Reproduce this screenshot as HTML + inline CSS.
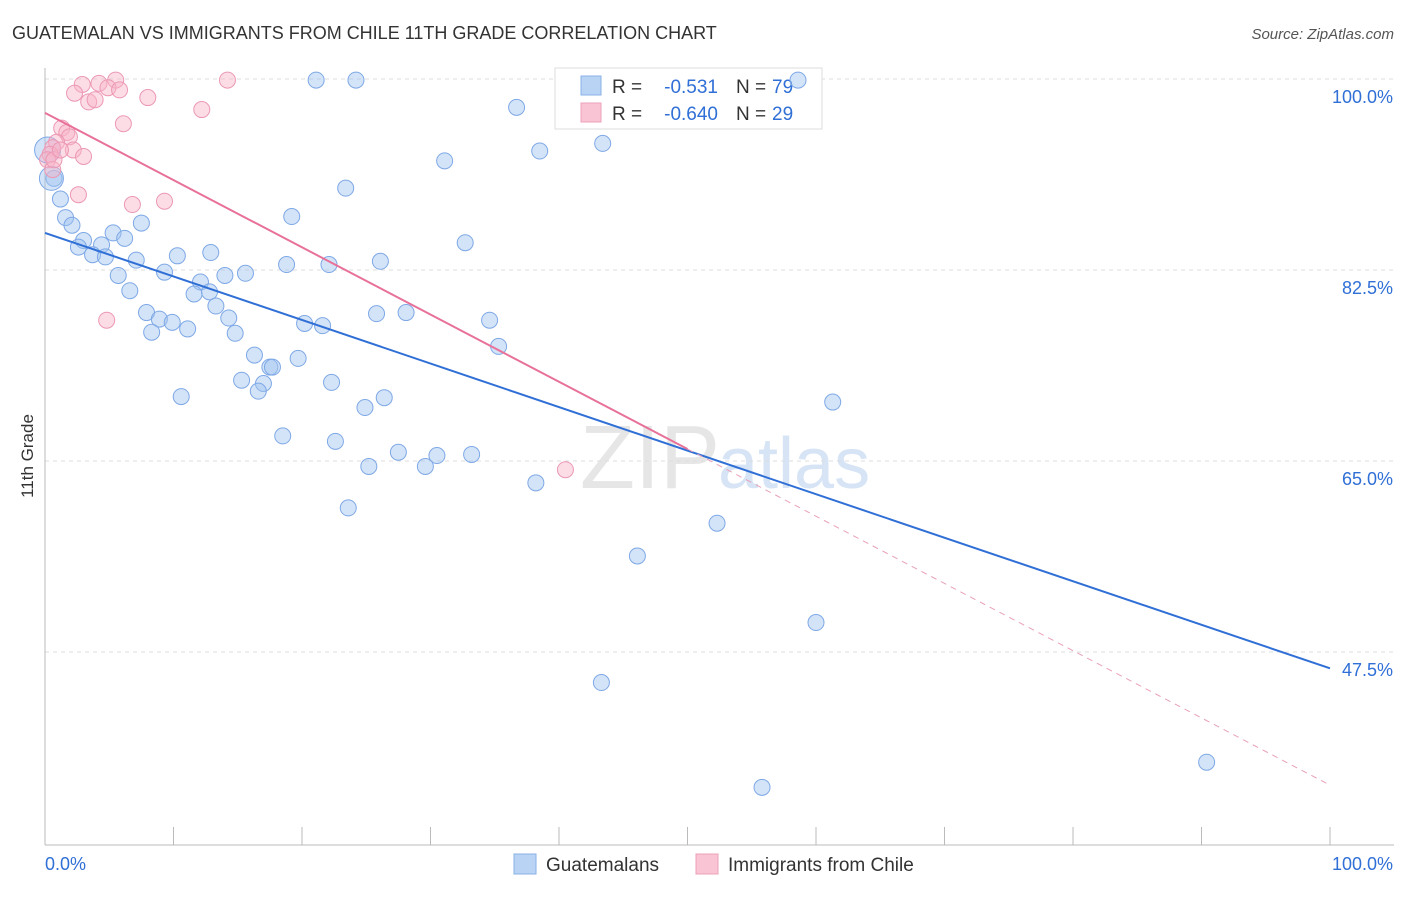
<!DOCTYPE html>
<html><head><meta charset="utf-8"><style>
body{margin:0;background:#fff;font-family:"Liberation Sans",sans-serif;}
svg text{font-family:"Liberation Sans",sans-serif;}
</style></head><body>
<svg id="chart" width="1406" height="892" viewBox="0 0 1406 892">
<text x="12" y="39" font-size="18" fill="#333">GUATEMALAN VS IMMIGRANTS FROM CHILE 11TH GRADE CORRELATION CHART</text>
<text x="1394" y="39" font-size="15" fill="#555" text-anchor="end" font-style="italic">Source: ZipAtlas.com</text>
<text x="720" y="488" font-size="90" fill="#e6e6e6" text-anchor="end" font-family="Liberation Serif">ZIP</text>
<text x="718" y="488" font-size="72" fill="#d6e4f5">atlas</text>
<g id="grid"></g>
<g id="axes"></g>
<g>
<rect x="555" y="68" width="267" height="61" fill="#fff" stroke="#ddd"/>
<rect x="581" y="76" width="20" height="19" fill="#b9d3f5" stroke="#8ab0e8"/>
<rect x="581" y="103" width="20" height="19" fill="#f9c4d4" stroke="#eea0b8"/>
<text x="612" y="93" font-size="19" fill="#333">R =</text>
<text x="718" y="93" font-size="19" fill="#2f6fd6" text-anchor="end">-0.531</text>
<text x="736" y="93" font-size="19" fill="#333">N =</text>
<text x="772" y="93" font-size="19" fill="#2f6fd6">79</text>
<text x="612" y="120" font-size="19" fill="#333">R =</text>
<text x="718" y="120" font-size="19" fill="#2f6fd6" text-anchor="end">-0.640</text>
<text x="736" y="120" font-size="19" fill="#333">N =</text>
<text x="772" y="120" font-size="19" fill="#2f6fd6">29</text>
</g>
<g id="marks"></g>
<text transform="translate(33,456) rotate(-90)" font-size="17" fill="#333" text-anchor="middle">11th Grade</text>
<g>
<rect x="514" y="854" width="22" height="20" fill="#b9d3f5" stroke="#8ab0e8"/>
<text x="546" y="871" font-size="19" fill="#333">Guatemalans</text>
<rect x="696" y="854" width="22" height="20" fill="#f9c4d4" stroke="#eea0b8"/>
<text x="728" y="871" font-size="19" fill="#333">Immigrants from Chile</text>
</g>
</svg>
<script>
const yTicks=[100,82.5,65,47.5];
const yTickLabels=["100.0%","82.5%","65.0%","47.5%"];
const xLabels=["0.0%","100.0%"];
const blueX=[21.1,24.2,58.6,36.7,43.4,38.5,31.1,0.7,23.4,1.2,1.6,19.2,2.1,7.5,5.3,3.0,6.2,32.7,4.4,2.6,3.7,4.7,10.3,12.9,7.1,26.1,18.8,22.1,5.7,9.3,14.0,15.6,12.1,11.6,12.8,6.6,13.3,7.9,8.9,9.9,14.3,25.8,28.1,20.2,21.6,34.6,8.3,11.1,14.8,35.3,16.3,19.7,17.5,17.7,15.3,17.0,16.6,22.3,10.6,26.4,24.9,61.3,18.5,22.6,27.5,30.5,33.2,25.2,29.6,38.2,23.6,52.3,46.1,60.0,43.3,90.4,55.8,0.2,0.5];
const blueY=[99.9,99.9,99.9,97.4,94.1,93.4,92.5,90.9,90.0,89.0,87.3,87.4,86.6,86.8,85.9,85.2,85.4,85.0,84.8,84.6,83.9,83.7,83.8,84.1,83.4,83.3,83.0,83.0,82.0,82.3,82.0,82.2,81.4,80.3,80.5,80.6,79.2,78.6,78.0,77.7,78.1,78.5,78.6,77.6,77.4,77.9,76.8,77.1,76.7,75.5,74.7,74.4,73.6,73.6,72.4,72.1,71.4,72.2,70.9,70.8,69.9,70.4,67.3,66.8,65.8,65.5,65.6,64.5,64.5,63.0,60.7,59.3,56.3,50.2,44.7,37.4,35.1,93.5,90.9];
const blueR=[8,8,8,8,8,8,8,8,8,8,8,8,8,8,8,8,8,8,8,8,8,8,8,8,8,8,8,8,8,8,8,8,8,8,8,8,8,8,8,8,8,8,8,8,8,8,8,8,8,8,8,8,8,8,8,8,8,8,8,8,8,8,8,8,8,8,8,8,8,8,8,8,8,8,8,8,8,13,12];
const pinkX=[5.5,14.2,2.9,4.2,4.9,5.8,2.3,8.0,3.4,3.9,12.2,6.1,1.3,1.7,1.9,0.9,0.6,2.2,0.4,3.0,0.2,0.6,2.6,6.8,9.3,4.8,40.5,0.7,1.2];
const pinkY=[99.9,99.9,99.5,99.6,99.2,99.0,98.7,98.3,97.9,98.1,97.2,95.9,95.5,95.1,94.7,94.2,93.7,93.5,93.1,92.9,92.6,91.7,89.4,88.5,88.8,77.9,64.2,92.6,93.5];
const blueTrend=[85.9,46.0];
const pinkTrend=[96.9,35.3];
const pinkSolidEnd=50;
const NS="http://www.w3.org/2000/svg";
const X0=45,X1=1330,Y100=79,PXPER=10.914;
function xs(v){return X0+(X1-X0)*v/100;}
function ys(v){return Y100+(100-v)*PXPER;}
function mk(t,a,p){const e=document.createElementNS(NS,t);for(const k in a)e.setAttribute(k,a[k]);p.appendChild(e);return e;}
const grid=document.getElementById('grid'),axes=document.getElementById('axes'),marks=document.getElementById('marks');
yTicks.forEach((t,i)=>{
 const l=mk('line',{x1:X0,x2:1394,y1:ys(t),y2:ys(t),stroke:'#ddd','stroke-dasharray':'4,4'},grid);
 
 
 const tx=mk('text',{x:1393,y:ys(t)+24,'font-size':18,fill:'#2f6fd6','text-anchor':'end'},axes);
 tx.textContent=yTickLabels[i];
 
 
});
const ax=mk('line',{x1:X0,x2:1394,y1:845,y2:845,stroke:'#bbb'},axes);


const ay=mk('line',{x1:X0,x2:X0,y1:68,y2:845,stroke:'#bbb'},axes);


for(let i=0;i<=10;i++){const t=mk('line',{x1:xs(i*10),x2:xs(i*10),y1:827,y2:845,stroke:'#bbb'},axes);
 
 }
const xl0=mk('text',{x:45,y:870,'font-size':18,fill:'#2f6fd6'},axes);xl0.textContent=xLabels[0];


const xl1=mk('text',{x:1393,y:870,'font-size':18,fill:'#2f6fd6','text-anchor':'end'},axes);xl1.textContent=xLabels[1];


blueX.forEach((v,i)=>{const c=mk('circle',{cx:xs(v),cy:ys(blueY[i]),r:blueR[i],fill:'rgba(160,195,240,0.45)',stroke:'#7ea8e6','stroke-width':1},marks);
 
 });
pinkX.forEach((v,i)=>{const c=mk('circle',{cx:xs(v),cy:ys(pinkY[i]),r:8,fill:'rgba(248,180,200,0.45)',stroke:'#ec98b4','stroke-width':1},marks);
 
 });
const bt=mk('line',{x1:xs(0),y1:ys(blueTrend[0]),x2:xs(100),y2:ys(blueTrend[1]),stroke:'#2f6fd6','stroke-width':2},marks);


const pm=pinkTrend[0]+(pinkTrend[1]-pinkTrend[0])*pinkSolidEnd/100;
const pt=mk('line',{x1:xs(0),y1:ys(pinkTrend[0]),x2:xs(pinkSolidEnd),y2:ys(pm),stroke:'#e8719a','stroke-width':2},marks);


const pd=mk('line',{x1:xs(pinkSolidEnd),y1:ys(pm),x2:xs(100),y2:ys(pinkTrend[1]),stroke:'#e8a0b8','stroke-width':1,'stroke-dasharray':'6,5'},marks);


</script>
</body></html>
